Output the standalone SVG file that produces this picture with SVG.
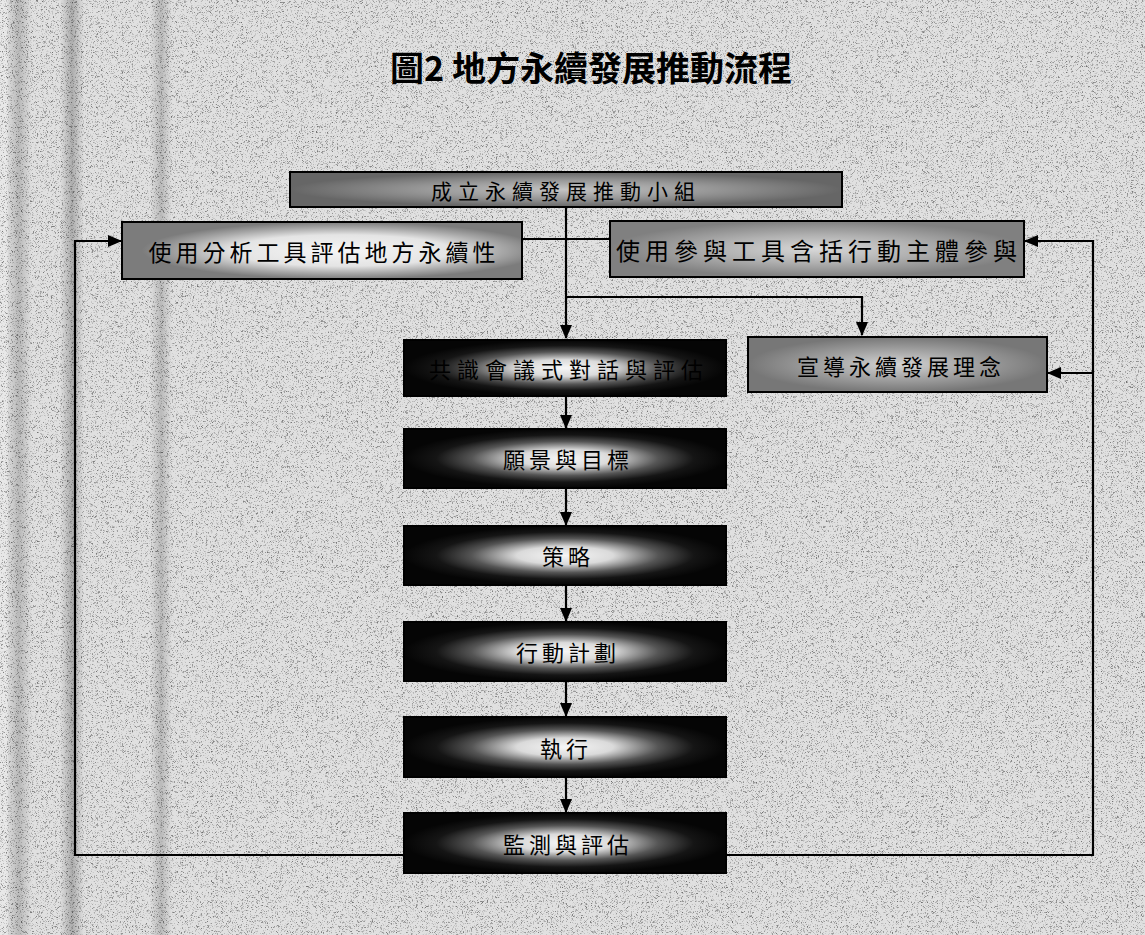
<svg xmlns="http://www.w3.org/2000/svg" width="1145" height="935" viewBox="0 0 1145 935">
  <style>
    .lbl { font-family: "Noto Sans CJK TC", "Noto Sans CJK SC", sans-serif; fill: #000; text-anchor: middle; dominant-baseline: central; }
    .title { font-family: "Noto Sans CJK TC", "Noto Sans CJK SC", sans-serif; font-weight: bold; font-size: 34px; fill: #000; text-anchor: middle; }
    .box { stroke: #000; stroke-width: 2; }
    .dark { fill: url(#glow); }
    .conn { fill: none; stroke: #000; stroke-width: 2.2; }
  </style>
  <defs>
    <filter id="noise" x="0" y="0" width="100%" height="100%">
      <feTurbulence type="fractalNoise" baseFrequency="1.8" numOctaves="1" seed="7"/>
      <feColorMatrix type="matrix" values="0 0 0 0 0  0 0 0 0 0  0 0 0 0 0  -4 0 0 0 1.85"/>
    </filter>
    <radialGradient id="glow" cx="0.5" cy="0.5" r="0.5">
      <stop offset="0" stop-color="#f6f6f6"/>
      <stop offset="0.3" stop-color="#dadada"/>
      <stop offset="0.58" stop-color="#555"/>
      <stop offset="0.8" stop-color="#151515"/>
      <stop offset="1" stop-color="#050505"/>
    </radialGradient>
    <radialGradient id="topg" cx="0.5" cy="0.5" r="0.5">
      <stop offset="0" stop-color="#c4c4c4"/>
      <stop offset="0.5" stop-color="#9a9a9a"/>
      <stop offset="1" stop-color="#666"/>
    </radialGradient>
    <radialGradient id="leftg" cx="0.55" cy="0.5" r="0.5">
      <stop offset="0" stop-color="#f6f6f6"/>
      <stop offset="0.55" stop-color="#e4e4e4"/>
      <stop offset="0.8" stop-color="#a8a8a8"/>
      <stop offset="1" stop-color="#7c7c7c"/>
    </radialGradient>
    <radialGradient id="rightg" cx="0.5" cy="0.5" r="0.5">
      <stop offset="0" stop-color="#d8d8d8"/>
      <stop offset="0.5" stop-color="#b0b0b0"/>
      <stop offset="1" stop-color="#808080"/>
    </radialGradient>
    <radialGradient id="propg" cx="0.5" cy="0.5" r="0.5">
      <stop offset="0" stop-color="#d4d4d4"/>
      <stop offset="0.5" stop-color="#a4a4a4"/>
      <stop offset="1" stop-color="#777"/>
    </radialGradient>
    <linearGradient id="stripe" x1="0" y1="0" x2="1" y2="0">
      <stop offset="0" stop-color="#a0a0a0" stop-opacity="0"/>
      <stop offset="0.5" stop-color="#a0a0a0" stop-opacity="1"/>
      <stop offset="1" stop-color="#a0a0a0" stop-opacity="0"/>
    </linearGradient>
    <marker id="arr" markerUnits="userSpaceOnUse" markerWidth="14" markerHeight="12" refX="13" refY="6" orient="auto">
      <path d="M0,0 L14,6 L0,12 Z" fill="#000"/>
    </marker>
  </defs>

  <!-- background -->
  <rect x="0" y="0" width="1145" height="935" fill="#e0e0e0"/>
  <rect x="0" y="0" width="8" height="935" fill="#e8e8e8"/>
  <rect x="6" y="0" width="26" height="935" fill="url(#stripe)" opacity="0.6"/>
  <rect x="60" y="0" width="24" height="935" fill="url(#stripe)" opacity="0.8"/>
  <rect x="150" y="0" width="22" height="935" fill="url(#stripe)" opacity="0.6"/>
  <rect x="0" y="0" width="1145" height="935" filter="url(#noise)" opacity="0.5"/>

  <text class="title" x="591" y="81">圖2 地方永續發展推動流程</text>

  <g id="connectors">
    <path class="conn" d="M566,207 V338" marker-end="url(#arr)"/>
    <path class="conn" d="M522,239 H610"/>
    <path class="conn" d="M566,297 H862 V335" marker-end="url(#arr)"/>
    <path class="conn" d="M566,396 V428" marker-end="url(#arr)"/>
    <path class="conn" d="M566,488 V525" marker-end="url(#arr)"/>
    <path class="conn" d="M566,585 V621" marker-end="url(#arr)"/>
    <path class="conn" d="M566,681 V716" marker-end="url(#arr)"/>
    <path class="conn" d="M566,777 V812" marker-end="url(#arr)"/>
    <path class="conn" d="M404,855 H75 V241 H121" marker-end="url(#arr)"/>
    <path class="conn" d="M726,855 H1093 V241 H1025" marker-end="url(#arr)"/>
    <path class="conn" d="M1093,373 H1048" marker-end="url(#arr)"/>
  </g>

  <g id="n-team">
    <rect class="box" x="290" y="172" width="552" height="35" fill="url(#topg)"/>
    <text class="lbl" x="566" y="190" font-size="21" letter-spacing="6">成立永續發展推動小組</text>
  </g>
  <g id="n-analysis">
    <rect class="box" x="122" y="222" width="400" height="57" fill="url(#leftg)"/>
    <text class="lbl" x="324" y="251" font-size="23" letter-spacing="4">使用分析工具評估地方永續性</text>
  </g>
  <g id="n-participation">
    <rect class="box" x="610" y="221" width="414" height="56" fill="url(#rightg)"/>
    <text class="lbl" x="819" y="249" font-size="24" letter-spacing="5">使用參與工具含括行動主體參與</text>
  </g>
  <g id="n-consensus">
    <rect class="box dark" x="404" y="340" width="322" height="56"/>
    <text class="lbl" x="569" y="368" font-size="22" letter-spacing="6">共識會議式對話與評估</text>
  </g>
  <g id="n-promote">
    <rect class="box" x="748" y="337" width="299" height="55" fill="url(#propg)"/>
    <text class="lbl" x="901" y="365" font-size="22" letter-spacing="4">宣導永續發展理念</text>
  </g>
  <g id="n-vision">
    <rect class="box dark" x="404" y="429" width="322" height="59"/>
    <text class="lbl" x="568" y="458" font-size="22" letter-spacing="4">願景與目標</text>
  </g>
  <g id="n-strategy">
    <rect class="box dark" x="404" y="526" width="322" height="59"/>
    <text class="lbl" x="568" y="555" font-size="22" letter-spacing="4">策略</text>
  </g>
  <g id="n-plan">
    <rect class="box dark" x="404" y="622" width="322" height="59"/>
    <text class="lbl" x="568" y="651" font-size="22" letter-spacing="4">行動計劃</text>
  </g>
  <g id="n-exec">
    <rect class="box dark" x="404" y="717" width="322" height="60"/>
    <text class="lbl" x="566" y="747" font-size="22" letter-spacing="4">執行</text>
  </g>
  <g id="n-monitor">
    <rect class="box dark" x="404" y="813" width="322" height="60"/>
    <text class="lbl" x="568" y="843" font-size="22" letter-spacing="4">監測與評估</text>
  </g>
</svg>
